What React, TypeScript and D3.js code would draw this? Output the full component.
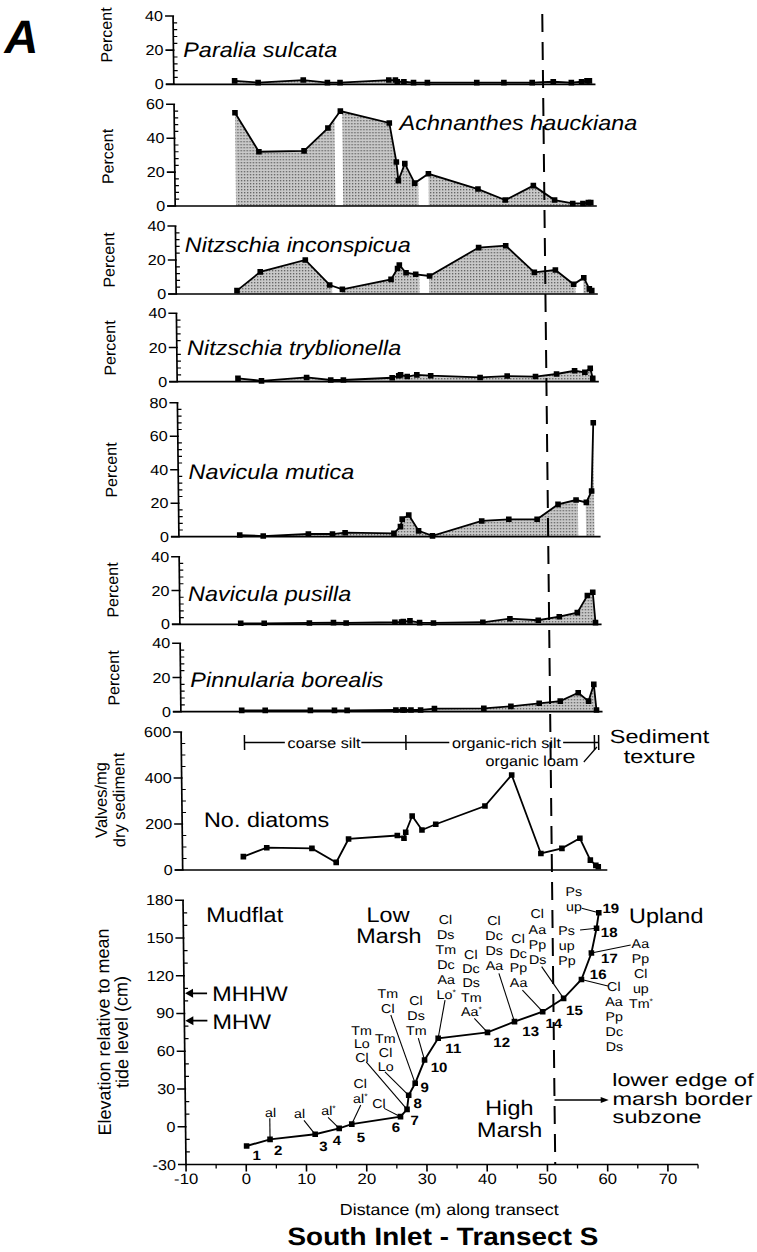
import React from "react";
import * as d3 from "d3";

// ---------- data ----------
const SAMPLE_IDS = [1, 2, 3, 4, 5, 6, 7, 8, 9, 10, 11, 12, 13, 14, 15, 16, 17, 18, 19];
const DISTANCE_M = [0.1, 4.0, 11.5, 15.5, 17.6, 25.7, 26.8, 27.1, 28.2, 29.8, 32.1, 40.3, 44.8, 49.5, 53.0, 56.0, 57.7, 58.6, 59.0];
const ELEVATION_CM = [-15.3, -10, -6, -1.3, 2.1, 8, 13.8, 25, 34.5, 53, 70.3, 75, 83.5, 91.4, 102, 117, 138, 157.7, 170];

const PARALIA_SULCATA = [2, 1, 2.5, 1, 1, 2.5, 2.5, 1.5, 1.5, 1, 1, 1, 1, 1, 1.5, 1, 1.5, 2, 2];
const ACHNANTHES_HAUCKIANA = [55, 32, 32.5, 46, 56, 49, 26, 15, 25, 13.5, 19, 10, 3.5, 12, 3.5, 1.5, 1.5, 2, 2];
const NITZSCHIA_INCONSPICUA = [2, 13, 20, 5.3, 2.7, 8.6, 15, 17, 12.5, 11.6, 10.6, 27.3, 28.4, 12.7, 14.1, 5.7, 9.6, 3, 2];
const NITZSCHIA_TRYBLIONELLA = [2, 0.5, 2.5, 1, 1, 2.3, 3.5, 4, 3, 4, 3.5, 2.5, 3.3, 3, 4.5, 6.4, 5.5, 7.8, 2];
const NAVICULA_MUTICA = [1, 0.4, 1.6, 1.6, 2.4, 2, 6, 10.5, 13, 3.5, 0.5, 9.4, 10.4, 10.4, 19.3, 21.9, 20.5, 27.3, 68];
const NAVICULA_PUSILLA = [0.6, 0.6, 0.8, 1, 0.8, 1.2, 1.4, 1.6, 2, 1, 0.8, 1.2, 3.3, 2.4, 4.5, 6.9, 17, 19, 1];
const PINNULARIA_BOREALIS = [0.8, 0.8, 0.8, 0.8, 0.8, 1, 1, 1, 1, 1, 1.8, 2, 3.1, 4.9, 6.2, 11.1, 6.2, 16, 1];
const VALVES_PER_MG = [58, 97, 94, 33, 135, 150, 138, 164, 235, 174, 199, 278, 413, 72, 94, 138, 43, 20, 14];

// plant codes at each station (bottom panel)
const PLANT_CODES = [
  [], ["al"], ["al"], ["al*"], ["Cl", "al*"], ["Cl"], ["Tm", "Lo", "Cl"], ["Tm", "Cl", "Lo"],
  ["Tm", "Cl"], ["Cl", "Ds", "Tm"], ["Cl", "Ds", "Tm", "Dc", "Aa", "Lo*"], ["Cl", "Dc", "Ds", "Tm", "Aa*"],
  ["Cl", "Dc", "Ds", "Aa"], ["Cl", "Dc", "Pp", "Aa"], ["Cl", "Aa", "Pp", "Ds"], ["Cl", "Aa", "Pp", "Dc", "Ds"],
  ["Aa", "Pp", "Cl", "up", "Tm*"], ["Ps", "up", "Pp"], ["Ps", "up"],
];

const X_TICKS = [-10, 0, 10, 20, 30, 40, 50, 60, 70];
const X_MINOR = [-5, 5, 15, 25, 35, 45, 55, 65, 75];
const ELEV_TICKS = [-30, 0, 30, 60, 90, 120, 150, 180];
const PCT40_TICKS = [0, 20, 40];
const PCT60_TICKS = [0, 20, 40, 60];
const PCT80_TICKS = [0, 20, 40, 60, 80];
const VALVE_TICKS = [0, 200, 400, 600];
const BOUNDARY_M = 51.3;
const MHHW_CM = 106;
const MHW_CM = 84.3;

// ---------- layout ----------
const W = 757;
const H = 1252;
const SKEW = 0.01127; // the scan leans slightly
const FONT = "'Liberation Sans', Arial, Helvetica, sans-serif";
const SX = 1.12;

const x = d3.scaleLinear().domain([-10, 75]).range([186, 698]);
const ey = d3.scaleLinear().domain([-30, 180]).range([1164.5, 900.2]);

const PANELS = [
  { name: "Paralia sulcata", values: PARALIA_SULCATA, max: 40, bottom: 84.3, top: 16, ticks: PCT40_TICKS, minor: 4, lx: -8.4, ly: 57, py: 35, gaps: [] as number[][] },
  { name: "Achnanthes hauckiana", values: ACHNANTHES_HAUCKIANA, max: 60, bottom: 206, top: 104.3, ticks: PCT60_TICKS, minor: 4, lx: 27.4, ly: 130, py: 156.5, gaps: [[16.6, 17.9], [30.4, 32.1]] },
  { name: "Nitzschia inconspicua", values: NITZSCHIA_INCONSPICUA, max: 40, bottom: 294, top: 226, ticks: PCT40_TICKS, minor: 4, lx: -8.5, ly: 252.3, py: 260, gaps: [[15.9, 17.5], [30.4, 32.0], [56.3, 57.6]] },
  { name: "Nitzschia tryblionella", values: NITZSCHIA_TRYBLIONELLA, max: 40, bottom: 381.7, top: 313.3, ticks: PCT40_TICKS, minor: 4, lx: -8.3, ly: 355, py: 348, gaps: [] },
  { name: "Navicula mutica", values: NAVICULA_MUTICA, max: 80, bottom: 536.7, top: 402.7, ticks: PCT80_TICKS, minor: 4, lx: -8.3, ly: 479, py: 470, gaps: [[56.3, 57.6]] },
  { name: "Navicula pusilla", values: NAVICULA_PUSILLA, max: 40, bottom: 624.3, top: 556.7, ticks: PCT40_TICKS, minor: 4, lx: -8.6, ly: 600.7, py: 590, gaps: [] },
  { name: "Pinnularia borealis", values: PINNULARIA_BOREALIS, max: 40, bottom: 711.7, top: 643.3, ticks: PCT40_TICKS, minor: 4, lx: -8.4, ly: 687.3, py: 678, gaps: [] },
];

// label layout for each station: [textDx, firstLineDy, lineStep, leaderDx, leaderDy]
const CODE_LAYOUT = [
  null, [0.7, -27, 15, 0, -21], [-15.4, -21, 15, -11, -14], [-10.5, -18.3, 15, -11, -11],
  [8.8, -40.8, 15, 9.2, -19], [-21.4, -13.3, 15, -16.2, -8.3], [-44.5, -79.3, 13.5, -40.3, -47.6],
  [-22.7, -57.2, 14.3, -23.5, -23.5], [-26.5, -90.3, 15, -23.6, -68.3], [-8, -60, 15.3, -6, -22],
  [8.6, -118.9, 15, 7.3, -38.2], [-15.8, -78.3, 14.4, -13, -14], [-19.5, -100.9, 14.8, -15, -48.3],
  [-23.8, -73.4, 14.8, -20, -21.7], [-25.5, -84.4, 15.1, -21.6, -31.7], [32.2, 7.2, 15, 26.4, 6.5],
  [49, -9.8, 15, 39.4, -8.1], [-30, 2.4, 14.7, -16.5, 1.7], [-24.7, -21.1, 15, -17, -4.5],
];
const NUMBER_OFFSETS = [
  [10, 9], [8, 11], [8, 12], [-2.5, 12], [9, 12.6], [-4.6, 10.7], [7.5, 10.7], [9, 7.5], [9.4, 4],
  [14.4, 6.7], [15, 10], [14, 9.4], [16, 9], [11, 11.6], [10.7, 11.6], [16.7, -5.5], [18, 5.2], [12.6, 3.4], [12, -4.5],
];

function Label({ x: tx, y: ty, size, anchor = "start", weight = 400, italic = false, sx = SX, children }: any) {
  return (
    <text
      transform={`translate(${tx},${ty}) scale(${sx},1)`}
      fontFamily={FONT}
      fontSize={size}
      textAnchor={anchor}
      fontWeight={weight}
      fontStyle={italic ? "italic" : "normal"}
      fill="#000"
    >
      {children}
    </text>
  );
}

function VLabel({ x: tx, y: ty, size, children }: any) {
  return (
    <text transform={`translate(${tx},${ty}) rotate(-90)`} dy="0.35em" fontFamily={FONT} fontSize={size} textAnchor="middle" fill="#000">
      {children}
    </text>
  );
}

function Code({ s }: { s: string }) {
  if (s.endsWith("*")) {
    return (
      <>
        {s.slice(0, -1)}
        <tspan dy={-4} fontSize={8}>*</tspan>
      </>
    );
  }
  return <>{s}</>;
}

function YAxis({ scale, ticks, minorStep, max, min = 0 }: any) {
  const ax = x(-10);
  const minors = d3.range(min, max + 1e-6, minorStep).filter((v: number) => !ticks.includes(v));
  return (
    <g>
      <line x1={ax} x2={ax} y1={scale(min)} y2={scale(max)} stroke="#000" strokeWidth={1.7} />
      {ticks.map((t: number) => (
        <g key={t}>
          <line x1={ax - 8} x2={ax + 1} y1={scale(t)} y2={scale(t)} stroke="#000" strokeWidth={1.6} />
          <Label x={ax - 10} y={scale(t) + 5} size={14.5} anchor="end">{t}</Label>
        </g>
      ))}
      {minors.map((t: number) => (
        <line key={"m" + t} x1={ax} x2={ax + 4} y1={scale(t)} y2={scale(t)} stroke="#000" strokeWidth={1.2} />
      ))}
    </g>
  );
}

function Markers({ pts }: any) {
  return (
    <g>
      {pts.map((p: number[], i: number) => (
        <rect key={i} x={p[0] - 2.8} y={p[1] - 2.8} width={5.6} height={5.6} fill="#000" />
      ))}
    </g>
  );
}

export default function App() {
  const skewDeg = (Math.atan(SKEW) * 180) / Math.PI;
  const bx = x(BOUNDARY_M);

  const valveY = d3.scaleLinear().domain([0, 600]).range([870, 732]);
  const valvePts = DISTANCE_M.map((d, i) => [x(d), valveY(VALVES_PER_MG[i])]);
  const line = d3.line();

  const elevPts = DISTANCE_M.map((d, i) => [x(d), ey(ELEVATION_CM[i])]);

  return (
    <svg
      width={W}
      height={H}
      viewBox={`0 0 ${W} ${H}`}
      style={{ position: "absolute", left: 0, top: 0, background: "#fff", display: "block" }}
    >
      <defs>
        <pattern id="stip" width={3} height={3} patternUnits="userSpaceOnUse">
          <rect width={3} height={3} fill="#c9c9c9" />
          <rect width={1.3} height={1.3} fill="#5e5e5e" />
        </pattern>
      </defs>
      <rect width={W} height={H} fill="#fff" />
      <g transform={`translate(${-1165 * SKEW},0) skewX(${skewDeg})`}>
        <text x={17} y={53} fontFamily={FONT} fontSize={47} fontWeight={700} fontStyle="italic">A</text>

        {/* diatom panels */}
        {PANELS.map((p) => {
          const y = d3.scaleLinear().domain([0, p.max]).range([p.bottom, p.top]);
          const pts = DISTANCE_M.map((d, i) => [x(d), y(p.values[i])] as [number, number]);
          const area = d3.area<[number, number]>().x((d) => d[0]).y0(y(0)).y1((d) => d[1]);
          return (
            <g key={p.name}>
              <path d={area(pts) || ""} fill="url(#stip)" />
              {p.gaps.map((g, i) => (
                <rect key={i} x={x(g[0])} width={x(g[1]) - x(g[0])} y={p.top} height={p.bottom - p.top - 0.5} fill="#fff" />
              ))}
              <line x1={x(-10) - 8} x2={x(60)} y1={y(0)} y2={y(0)} stroke="#000" strokeWidth={1.7} />
              <YAxis scale={y} ticks={p.ticks} minorStep={p.minor} max={p.max} />
              <path d={line(pts) || ""} fill="none" stroke="#000" strokeWidth={1.8} />
              <Markers pts={pts} />
              <Label x={x(p.lx)} y={p.ly} size={21} italic>{p.name}</Label>
              <VLabel x={119} y={p.py} size={16}>Percent</VLabel>
            </g>
          );
        })}

        {/* valves panel */}
        <g>
          <line x1={x(-10) - 8} x2={x(60.5)} y1={valveY(0)} y2={valveY(0)} stroke="#000" strokeWidth={1.7} />
          <YAxis scale={valveY} ticks={VALVE_TICKS} minorStep={50} max={600} />
          <path d={line(valvePts as any) || ""} fill="none" stroke="#000" strokeWidth={1.8} />
          <Markers pts={valvePts} />
          <Label x={x(-6.4)} y={827.3} size={21}>No. diatoms</Label>
          <VLabel x={105} y={800} size={16.5}>Valves/mg</VLabel>
          <VLabel x={123} y={800} size={16.5}>dry sediment</VLabel>
          {/* sediment texture bracket */}
          {[[0.5, 7.2], [19.9, 34.5], [53.4, 59.3]].map((s, i) => (
            <line key={i} x1={x(s[0])} x2={x(s[1])} y1={742.5} y2={742.5} stroke="#000" strokeWidth={1.5} />
          ))}
          {[0.5, 27.3, 58.6, 59.3].map((t, i) => (
            <line key={i} x1={x(t)} x2={x(t)} y1={735} y2={750} stroke="#000" strokeWidth={1.5} />
          ))}
          <Label x={x(13.7)} y={747.5} size={14.5} anchor="middle">coarse silt</Label>
          <Label x={x(44)} y={747.5} size={14.5} anchor="middle">organic-rich silt</Label>
          <Label x={x(55.9)} y={765.5} size={14.5} anchor="end">organic loam</Label>
          <line x1={x(56.8)} y1={762} x2={x(59)} y2={747} stroke="#000" strokeWidth={1.2} />
          <Label x={x(69.4)} y={742.5} size={19} sx={1.24} anchor="middle">Sediment</Label>
          <Label x={x(69.4)} y={762.5} size={19} sx={1.24} anchor="middle">texture</Label>
        </g>

        {/* elevation panel */}
        <g>
          <YAxis scale={ey} ticks={ELEV_TICKS} minorStep={10} max={180} min={-30} />
          <line x1={x(-10)} x2={x(75)} y1={ey(-30)} y2={ey(-30)} stroke="#000" strokeWidth={1.7} />
          {X_TICKS.map((t) => (
            <g key={t}>
              <line x1={x(t)} x2={x(t)} y1={ey(-30)} y2={ey(-30) + 7} stroke="#000" strokeWidth={1.6} />
              <Label x={x(t)} y={1184} size={15} anchor="middle">{t}</Label>
            </g>
          ))}
          {X_MINOR.map((t) => (
            <line key={t} x1={x(t)} x2={x(t)} y1={ey(-30)} y2={ey(-30) + 4} stroke="#000" strokeWidth={1.3} />
          ))}
          <Label x={x(33.6)} y={1215} size={16} anchor="middle">Distance (m) along transect</Label>
          <Label x={x(32.5)} y={1245} size={25} anchor="middle" weight={700}>South Inlet - Transect S</Label>
          <VLabel x={105} y={1032} size={18}>Elevation relative to mean</VLabel>
          <VLabel x={123} y={1032} size={18}>tide level (cm)</VLabel>

          {/* tide levels */}
          {[[MHHW_CM, "MHHW"], [MHW_CM, "MHW"]].map(([v, name]: any) => (
            <g key={name}>
              <line x1={x(-10) + 5} x2={x(-10) + 23} y1={ey(v)} y2={ey(v)} stroke="#000" strokeWidth={1.7} />
              <path d={`M${x(-10) + 1},${ey(v)} l8,-4.5 l0,9 z`} fill="#000" />
              <Label x={x(-10) + 28} y={ey(v) + 8} size={21}>{name}</Label>
            </g>
          ))}

          {/* zone labels */}
          <Label x={x(-6.2)} y={921.7} size={21}>Mudflat</Label>
          <Label x={x(24.0)} y={921.7} size={21} anchor="middle">Low</Label>
          <Label x={x(24.1)} y={943.3} size={21} anchor="middle">Marsh</Label>
          <Label x={x(64.0)} y={923.3} size={21}>Upland</Label>
          <Label x={x(43.8)} y={1115} size={21} anchor="middle">High</Label>
          <Label x={x(43.8)} y={1136.7} size={21} anchor="middle">Marsh</Label>
          <Label x={x(60.9)} y={1086.2} size={18} sx={1.31}>lower edge of</Label>
          <Label x={x(60.9)} y={1104.8} size={18} sx={1.31}>marsh border</Label>
          <Label x={x(60.9)} y={1123.4} size={18} sx={1.31}>subzone</Label>
          <line x1={bx} x2={x(60.3) - 6} y1={1100} y2={1100} stroke="#000" strokeWidth={1.3} />
          <path d={`M${x(60.3)},1100 l-8,-3 l0,6 z`} fill="#000" />

          {/* plant code stacks with leaders */}
          {PLANT_CODES.map((codes, i) => {
            const L = CODE_LAYOUT[i];
            if (!L || codes.length === 0) return null;
            const [px, py] = elevPts[i];
            return (
              <g key={i}>
                <line x1={px + L[3]} y1={py + L[4]} x2={px} y2={py} stroke="#000" strokeWidth={1.1} />
                {codes.map((c, j) => (
                  <Label key={j} x={px + L[0]} y={py + L[1] + j * L[2] + 4.5} size={12.8} anchor="middle">
                    <Code s={c} />
                  </Label>
                ))}
              </g>
            );
          })}

          <path d={line(elevPts as any) || ""} fill="none" stroke="#000" strokeWidth={1.9} />
          <Markers pts={elevPts} />
          {SAMPLE_IDS.map((id, i) => (
            <Label key={id} x={elevPts[i][0] + NUMBER_OFFSETS[i][0]} y={elevPts[i][1] + NUMBER_OFFSETS[i][1] + 5} size={13.5} weight={700} anchor="middle">
              {id}
            </Label>
          ))}
        </g>

        {/* boundary dashed line */}
        <line x1={bx} x2={bx} y1={14} y2={ey(-30)} stroke="#000" strokeWidth={2} strokeDasharray="18,10" />
      </g>
    </svg>
  );
}
